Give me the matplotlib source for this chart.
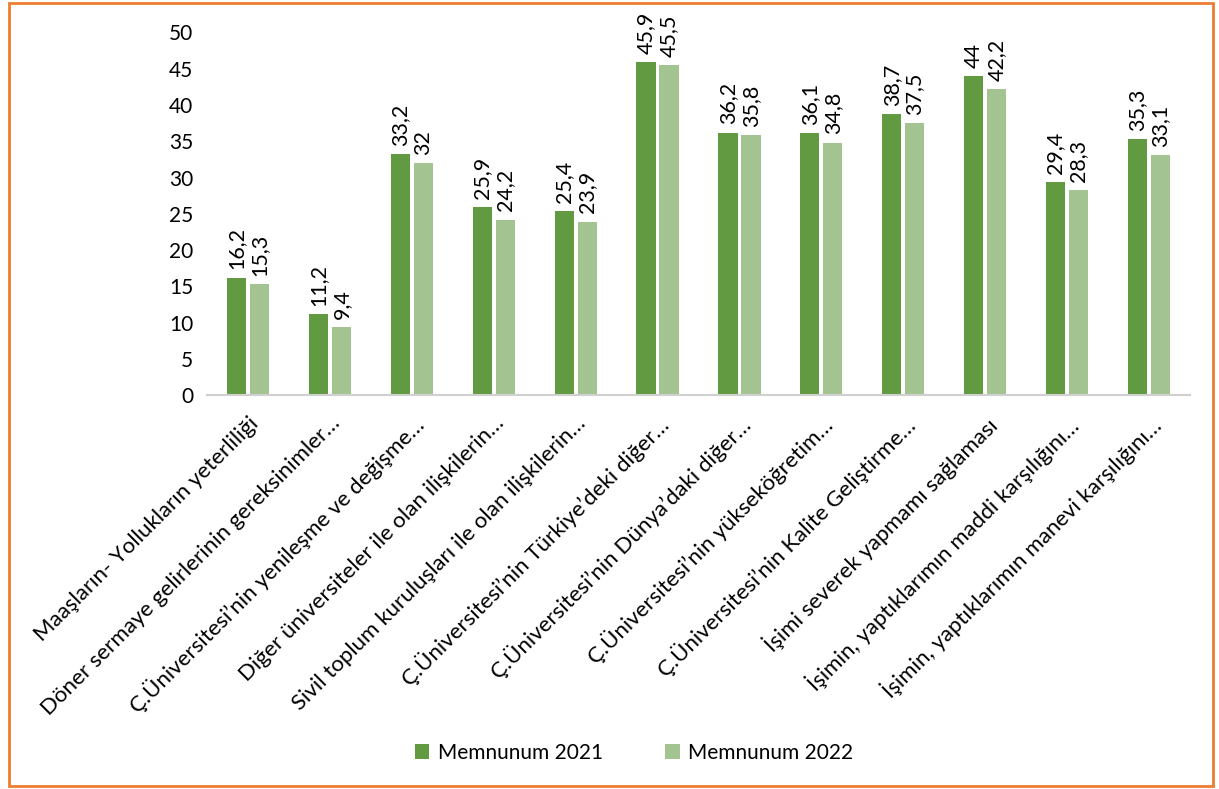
import matplotlib.pyplot as plt
import numpy as np
from matplotlib.patches import Rectangle

categories = [
    "Maaşların- Yollukların yeterliliği",
    "Döner sermaye gelirlerinin gereksinimler…",
    "Ç.Üniversitesi’nin yenileşme ve değişme…",
    "Diğer üniversiteler ile olan ilişkilerin…",
    "Sivil toplum kuruluşları ile olan ilişkilerin…",
    "Ç.Üniversitesi’nin Türkiye’deki diğer…",
    "Ç.Üniversitesi’nin Dünya’daki diğer…",
    "Ç.Üniversitesi’nin yükseköğretim…",
    "Ç.Üniversitesi’nin Kalite Geliştirme…",
    "İşimi severek yapmamı sağlaması",
    "İşimin, yaptıklarımın maddi karşılığını…",
    "İşimin, yaptıklarımın manevi karşılığını…",
]
memnun_2021 = [16.2, 11.2, 33.2, 25.9, 25.4, 45.9, 36.2, 36.1, 38.7, 44, 29.4, 35.3]
memnun_2022 = [15.3, 9.4, 32, 24.2, 23.9, 45.5, 35.8, 34.8, 37.5, 42.2, 28.3, 33.1]
series_names = ["Memnunum 2021", "Memnunum 2022"]

plt.rcParams["font.family"] = ["Lato", "DejaVu Sans"]
FS = 15

fig = plt.figure(figsize=(12.19, 7.89), dpi=100)
ax = fig.add_axes([0.170, 0.499, 0.806, 0.460])

x = np.arange(len(categories))
w = 0.235
off = 0.14
b1 = ax.bar(x - off, memnun_2021, w, color="#629A41", label=series_names[0])
b2 = ax.bar(x + off, memnun_2022, w, color="#A3C491", label=series_names[1])

# data labels, decimal comma
fmt = lambda v: f"{v:g}".replace(".", ",")
for bars, vals in ((b1, memnun_2021), (b2, memnun_2022)):
    for r, v in zip(bars, vals):
        ax.annotate(fmt(v), (r.get_x() + r.get_width() / 2, v),
                    xytext=(0, 6), textcoords="offset points",
                    rotation=90, ha="center", va="bottom", fontsize=15.5)

ax.set_ylim(0, 50)
ax.set_yticks(range(0, 51, 5))
ax.set_xlim(-0.5, len(categories) - 0.5)
ax.set_xticks(x)
ax.set_xticklabels(categories, rotation=45, ha="right", rotation_mode="anchor",
                   fontsize=16)
ax.tick_params(axis="y", length=0, labelsize=FS, pad=10)
ax.tick_params(axis="x", length=0, pad=13)
for s in ("top", "right", "left"):
    ax.spines[s].set_visible(False)
ax.spines["bottom"].set_color("#D0D0D0")
ax.spines["bottom"].set_linewidth(1.5)

fig.legend(handles=[b1, b2], loc="center", bbox_to_anchor=(0.52, 0.046), ncol=2,
           frameon=False, fontsize=FS, handlelength=0.7, handleheight=0.7,
           columnspacing=3.0, handletextpad=0.4)

# orange chart border
fig.patches.append(Rectangle((0.007, 0.004), 0.988, 0.992, transform=fig.transFigure,
                             fill=False, edgecolor="#ED7D31", linewidth=2))

fig.savefig("out.png", dpi=100)
